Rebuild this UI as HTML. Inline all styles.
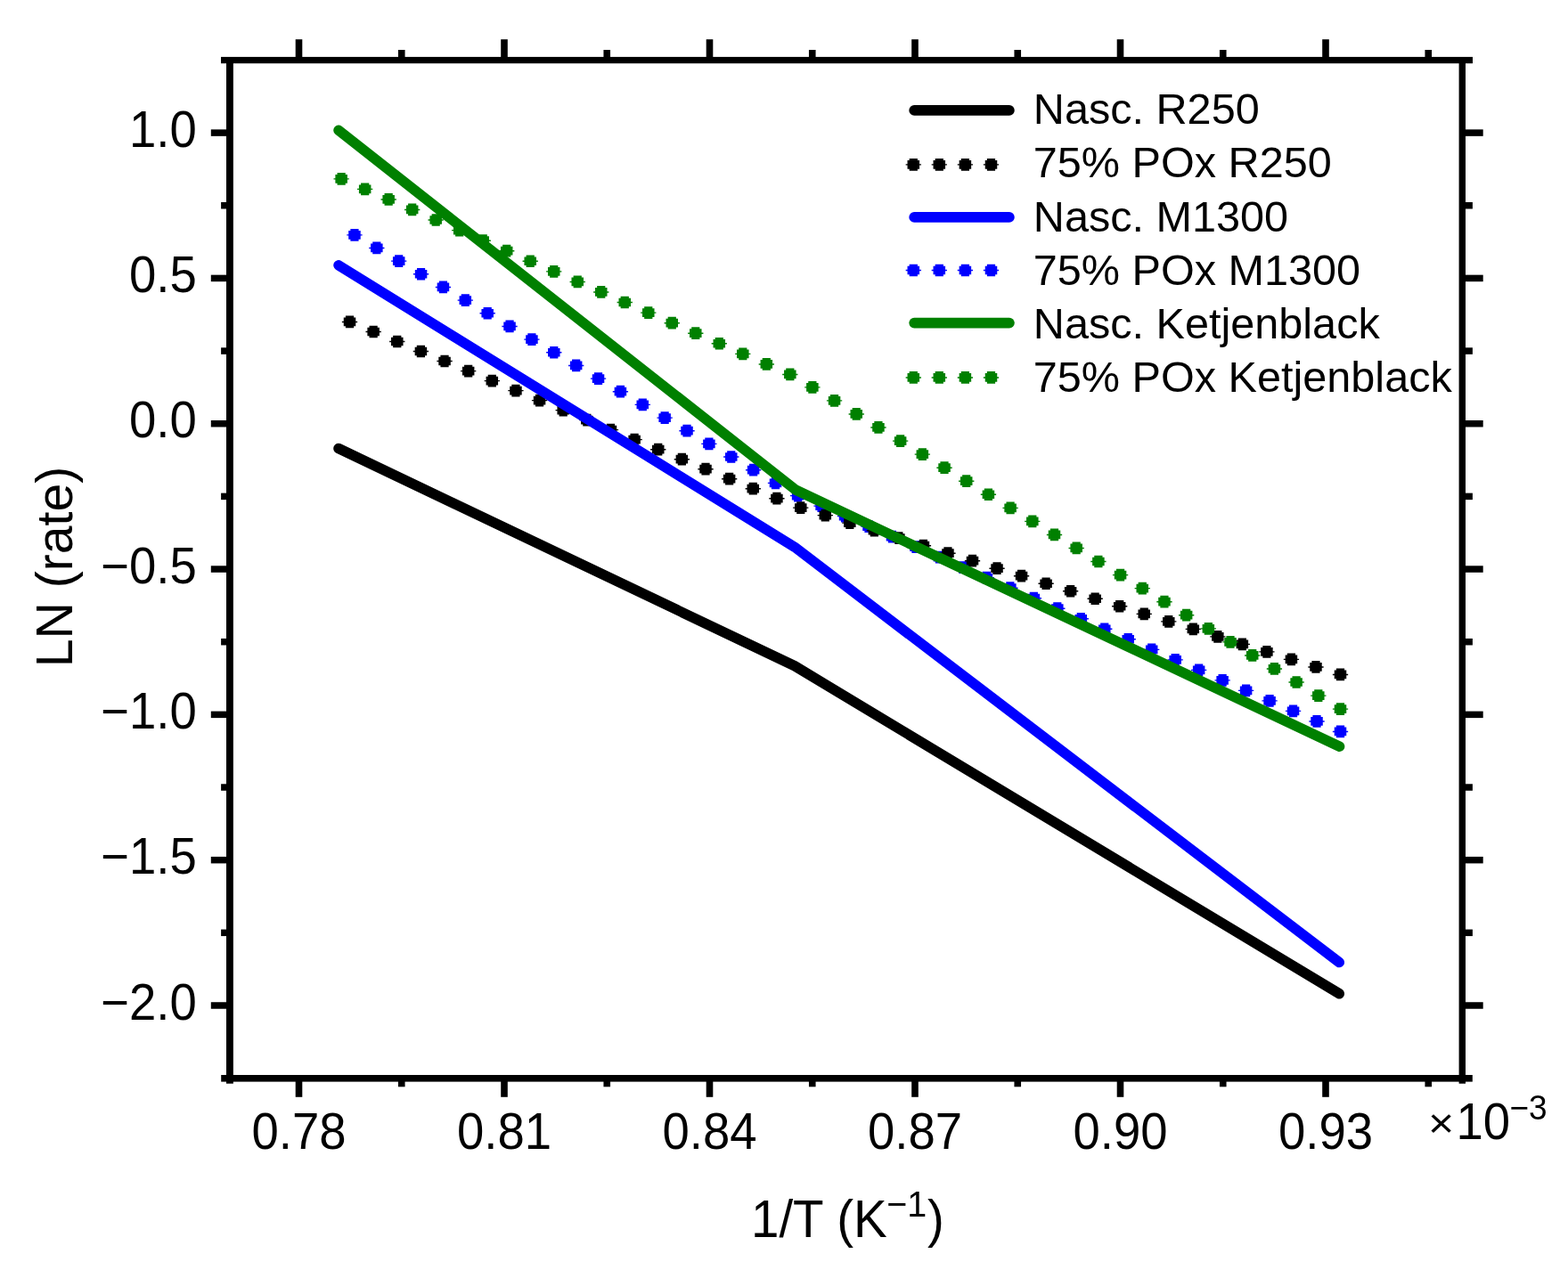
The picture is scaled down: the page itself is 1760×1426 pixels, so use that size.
<!DOCTYPE html><html><head><meta charset="utf-8"><style>html,body{margin:0;padding:0;background:#fff;width:1760px;height:1426px;overflow:hidden;}svg{display:block;}text{font-family:"Liberation Sans", Arial, sans-serif;fill:#000;}</style></head><body>
<svg width="1760" height="1426" viewBox="0 0 1760 1426">
<defs><path id="dot" d="M-4.6,-6.85H4.6V-4.85H6.75V-0.65H8.65V0.75H6.75V4.85H4.6V6.85H-4.6V4.85H-6.75V0.75H-8.65V-0.65H-6.75V-4.85H-4.6Z"/></defs>
<rect x="0" y="0" width="1760" height="1426" fill="#fff"/>
<path d="M380.00,503.50 L892.00,747.80 L1503.30,1115.80" fill="none" stroke="#000" stroke-width="11.5" stroke-linecap="round" stroke-linejoin="round"/>
<g fill="#0000ff"><use href="#dot" x="1504.50" y="821.40"/><use href="#dot" x="1478.03" y="809.89"/><use href="#dot" x="1451.55" y="798.37"/><use href="#dot" x="1425.08" y="786.86"/><use href="#dot" x="1398.60" y="775.34"/><use href="#dot" x="1372.13" y="763.83"/><use href="#dot" x="1345.65" y="752.31"/><use href="#dot" x="1319.18" y="740.80"/><use href="#dot" x="1292.71" y="729.28"/><use href="#dot" x="1266.23" y="717.77"/><use href="#dot" x="1239.76" y="706.25"/><use href="#dot" x="1213.28" y="694.74"/><use href="#dot" x="1186.81" y="683.22"/><use href="#dot" x="1160.33" y="671.71"/><use href="#dot" x="1133.86" y="660.19"/><use href="#dot" x="1107.39" y="648.68"/><use href="#dot" x="1080.91" y="637.16"/><use href="#dot" x="1054.44" y="625.65"/><use href="#dot" x="1027.96" y="614.14"/><use href="#dot" x="1001.49" y="602.62"/><use href="#dot" x="975.01" y="591.11"/><use href="#dot" x="948.54" y="579.59"/><use href="#dot" x="922.07" y="568.08"/><use href="#dot" x="895.59" y="556.56"/><use href="#dot" x="870.50" y="542.33"/><use href="#dot" x="845.63" y="527.67"/><use href="#dot" x="820.76" y="513.01"/><use href="#dot" x="795.89" y="498.35"/><use href="#dot" x="771.02" y="483.69"/><use href="#dot" x="746.15" y="469.03"/><use href="#dot" x="721.28" y="454.37"/><use href="#dot" x="696.41" y="439.71"/><use href="#dot" x="671.54" y="425.05"/><use href="#dot" x="646.67" y="410.39"/><use href="#dot" x="621.79" y="395.73"/><use href="#dot" x="596.92" y="381.07"/><use href="#dot" x="572.05" y="366.41"/><use href="#dot" x="547.18" y="351.75"/><use href="#dot" x="522.31" y="337.09"/><use href="#dot" x="497.44" y="322.43"/><use href="#dot" x="472.57" y="307.77"/><use href="#dot" x="447.70" y="293.11"/><use href="#dot" x="422.83" y="278.45"/><use href="#dot" x="397.96" y="263.79"/></g>
<g fill="#000"><use href="#dot" x="1504.50" y="757.40"/><use href="#dot" x="1476.97" y="748.89"/><use href="#dot" x="1449.43" y="740.37"/><use href="#dot" x="1421.90" y="731.86"/><use href="#dot" x="1394.37" y="723.34"/><use href="#dot" x="1366.83" y="714.83"/><use href="#dot" x="1339.30" y="706.32"/><use href="#dot" x="1311.76" y="697.80"/><use href="#dot" x="1284.23" y="689.29"/><use href="#dot" x="1256.70" y="680.77"/><use href="#dot" x="1229.16" y="672.26"/><use href="#dot" x="1201.63" y="663.75"/><use href="#dot" x="1174.10" y="655.23"/><use href="#dot" x="1146.56" y="646.72"/><use href="#dot" x="1119.03" y="638.20"/><use href="#dot" x="1091.50" y="629.69"/><use href="#dot" x="1063.96" y="621.17"/><use href="#dot" x="1036.43" y="612.66"/><use href="#dot" x="1008.89" y="604.15"/><use href="#dot" x="981.36" y="595.63"/><use href="#dot" x="953.83" y="587.12"/><use href="#dot" x="926.29" y="578.60"/><use href="#dot" x="898.76" y="570.09"/><use href="#dot" x="871.91" y="559.69"/><use href="#dot" x="845.27" y="548.68"/><use href="#dot" x="818.64" y="537.67"/><use href="#dot" x="792.01" y="526.65"/><use href="#dot" x="765.37" y="515.64"/><use href="#dot" x="738.74" y="504.63"/><use href="#dot" x="712.11" y="493.62"/><use href="#dot" x="685.47" y="482.61"/><use href="#dot" x="658.84" y="471.59"/><use href="#dot" x="632.21" y="460.58"/><use href="#dot" x="605.57" y="449.57"/><use href="#dot" x="578.94" y="438.56"/><use href="#dot" x="552.31" y="427.55"/><use href="#dot" x="525.67" y="416.53"/><use href="#dot" x="499.04" y="405.52"/><use href="#dot" x="472.41" y="394.51"/><use href="#dot" x="445.77" y="383.50"/><use href="#dot" x="419.14" y="372.48"/><use href="#dot" x="392.51" y="361.47"/></g>
<path d="M380.00,297.80 L892.00,614.30 L1503.30,1080.60" fill="none" stroke="#0000ff" stroke-width="11.5" stroke-linecap="round" stroke-linejoin="round"/>
<path d="M380.00,146.30 L893.00,550.00 L1503.60,838.20" fill="none" stroke="#008000" stroke-width="11.5" stroke-linecap="round" stroke-linejoin="round"/>
<g fill="#008000"><use href="#dot" x="1504.50" y="796.10"/><use href="#dot" x="1479.81" y="781.05"/><use href="#dot" x="1455.11" y="765.99"/><use href="#dot" x="1430.42" y="750.94"/><use href="#dot" x="1405.73" y="735.89"/><use href="#dot" x="1381.03" y="720.83"/><use href="#dot" x="1356.34" y="705.78"/><use href="#dot" x="1331.65" y="690.72"/><use href="#dot" x="1306.95" y="675.67"/><use href="#dot" x="1282.26" y="660.62"/><use href="#dot" x="1257.57" y="645.56"/><use href="#dot" x="1232.88" y="630.51"/><use href="#dot" x="1208.18" y="615.46"/><use href="#dot" x="1183.49" y="600.40"/><use href="#dot" x="1158.80" y="585.35"/><use href="#dot" x="1134.10" y="570.29"/><use href="#dot" x="1109.41" y="555.24"/><use href="#dot" x="1084.72" y="540.19"/><use href="#dot" x="1060.02" y="525.13"/><use href="#dot" x="1035.33" y="510.08"/><use href="#dot" x="1010.64" y="495.03"/><use href="#dot" x="985.94" y="479.97"/><use href="#dot" x="961.25" y="464.92"/><use href="#dot" x="936.56" y="449.86"/><use href="#dot" x="911.86" y="434.81"/><use href="#dot" x="886.82" y="420.44"/><use href="#dot" x="860.31" y="408.88"/><use href="#dot" x="833.80" y="397.32"/><use href="#dot" x="807.29" y="385.76"/><use href="#dot" x="780.78" y="374.19"/><use href="#dot" x="754.27" y="362.63"/><use href="#dot" x="727.77" y="351.07"/><use href="#dot" x="701.26" y="339.51"/><use href="#dot" x="674.75" y="327.95"/><use href="#dot" x="648.24" y="316.39"/><use href="#dot" x="621.73" y="304.83"/><use href="#dot" x="595.22" y="293.27"/><use href="#dot" x="568.71" y="281.70"/><use href="#dot" x="542.21" y="270.14"/><use href="#dot" x="515.70" y="258.58"/><use href="#dot" x="489.19" y="247.02"/><use href="#dot" x="462.68" y="235.46"/><use href="#dot" x="436.17" y="223.90"/><use href="#dot" x="409.66" y="212.34"/><use href="#dot" x="383.15" y="200.78"/></g>
<rect x="248.00" y="63.90" width="1405.00" height="7.30" fill="#000"/>
<rect x="248.20" y="1207.00" width="1404.60" height="7.60" fill="#000"/>
<rect x="254.00" y="66.00" width="7.85" height="1150.70" fill="#000"/>
<rect x="1637.60" y="66.00" width="7.40" height="1150.70" fill="#000"/>
<rect x="331.70" y="1210.00" width="7.60" height="21.80" fill="#000"/>
<rect x="331.70" y="44.20" width="7.60" height="23.80" fill="#000"/>
<rect x="446.95" y="1210.00" width="7.60" height="10.30" fill="#000"/>
<rect x="446.95" y="56.00" width="7.60" height="12.00" fill="#000"/>
<rect x="562.20" y="1210.00" width="7.60" height="21.80" fill="#000"/>
<rect x="562.20" y="44.20" width="7.60" height="23.80" fill="#000"/>
<rect x="677.45" y="1210.00" width="7.60" height="10.30" fill="#000"/>
<rect x="677.45" y="56.00" width="7.60" height="12.00" fill="#000"/>
<rect x="792.70" y="1210.00" width="7.60" height="21.80" fill="#000"/>
<rect x="792.70" y="44.20" width="7.60" height="23.80" fill="#000"/>
<rect x="907.95" y="1210.00" width="7.60" height="10.30" fill="#000"/>
<rect x="907.95" y="56.00" width="7.60" height="12.00" fill="#000"/>
<rect x="1023.20" y="1210.00" width="7.60" height="21.80" fill="#000"/>
<rect x="1023.20" y="44.20" width="7.60" height="23.80" fill="#000"/>
<rect x="1138.45" y="1210.00" width="7.60" height="10.30" fill="#000"/>
<rect x="1138.45" y="56.00" width="7.60" height="12.00" fill="#000"/>
<rect x="1253.70" y="1210.00" width="7.60" height="21.80" fill="#000"/>
<rect x="1253.70" y="44.20" width="7.60" height="23.80" fill="#000"/>
<rect x="1368.95" y="1210.00" width="7.60" height="10.30" fill="#000"/>
<rect x="1368.95" y="56.00" width="7.60" height="12.00" fill="#000"/>
<rect x="1484.20" y="1210.00" width="7.60" height="21.80" fill="#000"/>
<rect x="1484.20" y="44.20" width="7.60" height="23.80" fill="#000"/>
<rect x="1599.45" y="1210.00" width="7.60" height="10.30" fill="#000"/>
<rect x="1599.45" y="56.00" width="7.60" height="12.00" fill="#000"/>
<rect x="236.80" y="145.35" width="21.20" height="7.50" fill="#000"/>
<rect x="1641.00" y="145.35" width="23.70" height="7.50" fill="#000"/>
<rect x="248.10" y="227.01" width="9.90" height="7.50" fill="#000"/>
<rect x="1641.00" y="227.01" width="11.90" height="7.50" fill="#000"/>
<rect x="236.80" y="308.66" width="21.20" height="7.50" fill="#000"/>
<rect x="1641.00" y="308.66" width="23.70" height="7.50" fill="#000"/>
<rect x="248.10" y="390.32" width="9.90" height="7.50" fill="#000"/>
<rect x="1641.00" y="390.32" width="11.90" height="7.50" fill="#000"/>
<rect x="236.80" y="471.98" width="21.20" height="7.50" fill="#000"/>
<rect x="1641.00" y="471.98" width="23.70" height="7.50" fill="#000"/>
<rect x="248.10" y="553.64" width="9.90" height="7.50" fill="#000"/>
<rect x="1641.00" y="553.64" width="11.90" height="7.50" fill="#000"/>
<rect x="236.80" y="635.29" width="21.20" height="7.50" fill="#000"/>
<rect x="1641.00" y="635.29" width="23.70" height="7.50" fill="#000"/>
<rect x="248.10" y="716.95" width="9.90" height="7.50" fill="#000"/>
<rect x="1641.00" y="716.95" width="11.90" height="7.50" fill="#000"/>
<rect x="236.80" y="798.61" width="21.20" height="7.50" fill="#000"/>
<rect x="1641.00" y="798.61" width="23.70" height="7.50" fill="#000"/>
<rect x="248.10" y="880.27" width="9.90" height="7.50" fill="#000"/>
<rect x="1641.00" y="880.27" width="11.90" height="7.50" fill="#000"/>
<rect x="236.80" y="961.93" width="21.20" height="7.50" fill="#000"/>
<rect x="1641.00" y="961.93" width="23.70" height="7.50" fill="#000"/>
<rect x="248.10" y="1043.58" width="9.90" height="7.50" fill="#000"/>
<rect x="1641.00" y="1043.58" width="11.90" height="7.50" fill="#000"/>
<rect x="236.80" y="1125.24" width="21.20" height="7.50" fill="#000"/>
<rect x="1641.00" y="1125.24" width="23.70" height="7.50" fill="#000"/>
<text transform="translate(335.50,1289.5) scale(1,1.04)" font-size="54.5" text-anchor="middle">0.78</text>
<text transform="translate(566.00,1289.5) scale(1,1.04)" font-size="54.5" text-anchor="middle">0.81</text>
<text transform="translate(796.50,1289.5) scale(1,1.04)" font-size="54.5" text-anchor="middle">0.84</text>
<text transform="translate(1027.00,1289.5) scale(1,1.04)" font-size="54.5" text-anchor="middle">0.87</text>
<text transform="translate(1257.50,1289.5) scale(1,1.04)" font-size="54.5" text-anchor="middle">0.90</text>
<text transform="translate(1488.00,1289.5) scale(1,1.04)" font-size="54.5" text-anchor="middle">0.93</text>
<text transform="translate(220.7,164.70) scale(1,1.04)" font-size="54.5" text-anchor="end">1.0</text>
<text transform="translate(220.7,328.01) scale(1,1.04)" font-size="54.5" text-anchor="end">0.5</text>
<text transform="translate(220.7,491.33) scale(1,1.04)" font-size="54.5" text-anchor="end">0.0</text>
<text transform="translate(220.7,654.64) scale(1,1.04)" font-size="54.5" text-anchor="end">−0.5</text>
<text transform="translate(220.7,817.96) scale(1,1.04)" font-size="54.5" text-anchor="end">−1.0</text>
<text transform="translate(220.7,981.28) scale(1,1.04)" font-size="54.5" text-anchor="end">−1.5</text>
<text transform="translate(220.7,1144.59) scale(1,1.04)" font-size="54.5" text-anchor="end">−2.0</text>
<text transform="translate(1603,1276.9) scale(1,0.92)" font-size="50">×</text>
<text transform="translate(1634.4,1278.9) scale(1,1.04)" font-size="54.5">10</text>
<text transform="translate(1694.5,1256.9) scale(1,1.04)" font-size="37">−3</text>
<text transform="translate(843,1389) scale(1,1.04)" font-size="56.5">1/T (K</text>
<text transform="translate(995.3,1365.8) scale(1,1.04)" font-size="39.5">−1</text>
<text transform="translate(1040.9,1389) scale(1,1.04)" font-size="56.5">)</text>
<text transform="translate(80.9,749.3) rotate(-90)" x="0" y="0" font-size="57.2">LN (rate)</text>
<line x1="1026.2" y1="123.9" x2="1132.9" y2="123.9" stroke="#000" stroke-width="11.75" stroke-linecap="round"/>
<text x="1159.8" y="139.2" font-size="48.6">Nasc. R250</text>
<g fill="#000"><use href="#dot" x="1025.3" y="184.8"/><use href="#dot" x="1054.3" y="184.8"/><use href="#dot" x="1083.4" y="184.8"/><use href="#dot" x="1112.5" y="184.8"/></g>
<text x="1159.8" y="199.2" font-size="48.6">75% POx R250</text>
<line x1="1026.2" y1="243.9" x2="1132.9" y2="243.9" stroke="#0000ff" stroke-width="11.75" stroke-linecap="round"/>
<text x="1159.8" y="259.8" font-size="48.6">Nasc. M1300</text>
<g fill="#0000ff"><use href="#dot" x="1025.3" y="303.5"/><use href="#dot" x="1054.3" y="303.5"/><use href="#dot" x="1083.4" y="303.5"/><use href="#dot" x="1112.5" y="303.5"/></g>
<text x="1159.8" y="319.5" font-size="48.6">75% POx M1300</text>
<line x1="1026.2" y1="362.6" x2="1132.9" y2="362.6" stroke="#008000" stroke-width="11.75" stroke-linecap="round"/>
<text x="1159.8" y="379.8" font-size="48.6">Nasc. Ketjenblack</text>
<g fill="#008000"><use href="#dot" x="1025.3" y="423.9"/><use href="#dot" x="1054.3" y="423.9"/><use href="#dot" x="1083.4" y="423.9"/><use href="#dot" x="1112.5" y="423.9"/></g>
<text x="1159.8" y="439.5" font-size="48.6">75% POx Ketjenblack</text>
</svg></body></html>
